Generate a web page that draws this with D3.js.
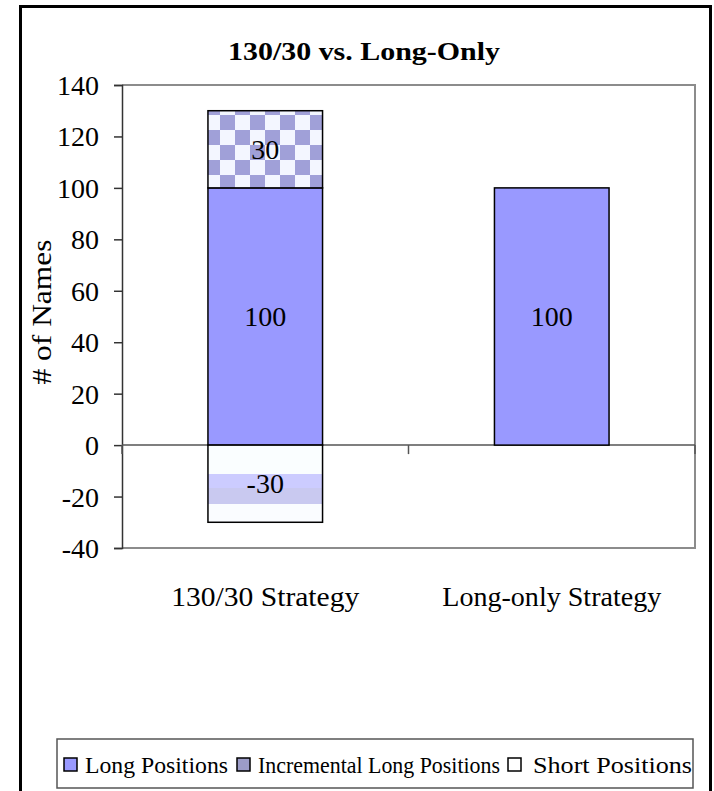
<!DOCTYPE html>
<html>
<head>
<meta charset="utf-8">
<script src="https://cdn.jsdelivr.net/npm/d3@7"></script>
<style>
  body { margin: 0; background: #fff; }
  text { font-family: "Liberation Serif", "Tinos", "Times New Roman", serif; fill: #000; }
</style>
</head>
<body>
<svg id="chart" width="714" height="791"></svg>
<script>
// ---- data ----
const categories = ["130/30 Strategy", "Long-only Strategy"];
const longPositions = [100, 100];
const incrementalLong = [30, 0];
const shortPositions = [-30, 0];
const yTicks = [-40, -20, 0, 20, 40, 60, 80, 100, 120, 140];
const seriesNames = ["Long Positions", "Incremental Long Positions", "Short Positions"];
const chartTitle = "130/30 vs. Long-Only";
const yTitle = "# of Names";

// ---- setup ----
const svg = d3.select("#chart");
const plot = { left: 122, right: 695, top: 85, bottom: 548 };
const fmt = v => String(v); // plain hyphen for negatives

const y = d3.scaleLinear().domain([-40, 140]).range([plot.bottom, plot.top]);
const x = d3.scaleBand().domain(categories).range([plot.left, plot.right])
  .paddingInner(0.6).paddingOuter(0.3);

const defs = svg.append("defs");
// checker pattern for incremental long positions
const chk = defs.append("pattern").attr("id", "checker")
  .attr("patternUnits", "userSpaceOnUse").attr("x", 205).attr("y", 115)
  .attr("width", 30).attr("height", 30);
chk.append("rect").attr("width", 30).attr("height", 30).attr("fill", "#F3F6FF");
chk.append("rect").attr("x", 15).attr("y", 0).attr("width", 15).attr("height", 15).attr("fill", "#A0A0D8");
chk.append("rect").attr("x", 0).attr("y", 15).attr("width", 15).attr("height", 15).attr("fill", "#A0A0D8");

// banded fill for short positions
const sg = defs.append("linearGradient").attr("id", "shortFill")
  .attr("x1", 0).attr("y1", 0).attr("x2", 0).attr("y2", 1);
[[0, "#FAFEFF"], [0.368, "#FAFEFF"], [0.368, "#CCCCFF"], [0.56, "#CCCCFF"],
 [0.56, "#C9C9F0"], [0.763, "#C9C9F0"], [0.763, "#FAFCFF"], [1, "#FAFCFF"]]
  .forEach(([o, c]) => sg.append("stop").attr("offset", o).attr("stop-color", c));

// outer frame
svg.append("rect").attr("x", 20.5).attr("y", 6.5).attr("width", 690).attr("height", 800)
  .attr("fill", "#fff").attr("stroke", "#000").attr("stroke-width", 3);

// title
svg.append("text").attr("x", 364).attr("y", 60).attr("text-anchor", "middle")
  .attr("font-size", 26).attr("font-weight", "bold")
  .attr("textLength", 272).attr("lengthAdjust", "spacingAndGlyphs")
  .text(chartTitle);

// plot area border (gray)
svg.append("path")
  .attr("d", `M${plot.left},${plot.top}H${plot.right}V${plot.bottom}H${plot.left}`)
  .attr("fill", "none").attr("stroke", "#8C8C8C").attr("stroke-width", 2);

// y axis
const yAxis = svg.append("g").attr("transform", `translate(${plot.left},0)`)
  .call(d3.axisLeft(y).tickValues(yTicks).tickSize(8).tickPadding(15).tickFormat(fmt));
yAxis.attr("font-family", null);
yAxis.select(".domain").attr("stroke", "#333").attr("stroke-width", 1.5);
yAxis.selectAll(".tick line").attr("stroke", "#333").attr("stroke-width", 1.5);
yAxis.selectAll(".tick text").attr("font-size", 28)
  .attr("fill", "#000").attr("dy", "0.34em");

// zero line / category axis
svg.append("line").attr("x1", plot.left).attr("x2", plot.right)
  .attr("y1", y(0)).attr("y2", y(0)).attr("stroke", "#555").attr("stroke-width", 1.5);
const step = x.step();
d3.range(categories.length + 1).forEach(i => {
  const tx = plot.left + i * step;
  svg.append("line").attr("x1", tx).attr("x2", tx).attr("y1", y(0)).attr("y2", y(0) + 9)
    .attr("stroke", "#555").attr("stroke-width", 1.5);
});

// y title
svg.append("text").attr("transform", `translate(51,${312}) rotate(-90)`)
  .attr("text-anchor", "middle").attr("font-size", 27)
  .attr("textLength", 145).attr("lengthAdjust", "spacingAndGlyphs")
  .text(yTitle);

// bars
const bars = svg.append("g");
categories.forEach((c, i) => {
  const bx = x(c), bw = x.bandwidth();
  if (longPositions[i]) {
    bars.append("rect").attr("x", bx).attr("width", bw)
      .attr("y", y(longPositions[i])).attr("height", y(0) - y(longPositions[i]))
      .attr("fill", "#9999FF").attr("stroke", "#000").attr("stroke-width", 1.5);
  }
  if (incrementalLong[i]) {
    const top = longPositions[i] + incrementalLong[i];
    bars.append("rect").attr("x", bx).attr("width", bw)
      .attr("y", y(top)).attr("height", y(longPositions[i]) - y(top))
      .attr("fill", "url(#checker)").attr("stroke", "#000").attr("stroke-width", 1.5);
  }
  if (shortPositions[i]) {
    bars.append("rect").attr("x", bx).attr("width", bw)
      .attr("y", y(0)).attr("height", y(shortPositions[i]) - y(0))
      .attr("fill", "url(#shortFill)").attr("stroke", "#000").attr("stroke-width", 1.5);
  }
});

// bar labels
const labels = svg.append("g").attr("font-size", 28).attr("text-anchor", "middle");
categories.forEach((c, i) => {
  const cx = x(c) + x.bandwidth() / 2;
  if (longPositions[i]) labels.append("text").attr("x", cx).attr("y", y(longPositions[i] / 2))
    .attr("dy", "0.34em").text(fmt(longPositions[i]));
  if (incrementalLong[i]) labels.append("text").attr("x", cx)
    .attr("y", y(longPositions[i] + incrementalLong[i] / 2)).attr("dy", "0.34em").text(fmt(incrementalLong[i]));
  if (shortPositions[i]) labels.append("text").attr("x", cx)
    .attr("y", y(shortPositions[i] / 2)).attr("dy", "0.34em").text(fmt(shortPositions[i]));
});

// category labels
const catWidths = [188, 219];
categories.forEach((c, i) => {
  svg.append("text").attr("x", x(c) + x.bandwidth() / 2).attr("y", 606)
    .attr("text-anchor", "middle").attr("font-size", 27)
    .attr("textLength", catWidths[i]).attr("lengthAdjust", "spacingAndGlyphs")
    .text(c);
});

// legend
svg.append("rect").attr("x", 57).attr("y", 739).attr("width", 636).attr("height", 49)
  .attr("fill", "#fff").attr("stroke", "#555").attr("stroke-width", 1.5);
const legendFills = ["#9999FF", "#9C9CC8", "#FFFFFF"];
const swatchX = [64, 237, 508];
const textX = [85, 258, 533];
const textW = [143, 242, 159];
seriesNames.forEach((n, i) => {
  svg.append("rect").attr("x", swatchX[i]).attr("y", 758).attr("width", 13).attr("height", 13)
    .attr("fill", legendFills[i]).attr("stroke", "#000").attr("stroke-width", 1.5);
  svg.append("text").attr("x", textX[i]).attr("y", 773).attr("font-size", 23)
    .attr("textLength", textW[i]).attr("lengthAdjust", "spacingAndGlyphs")
    .text(n);
});
</script>
</body>
</html>
